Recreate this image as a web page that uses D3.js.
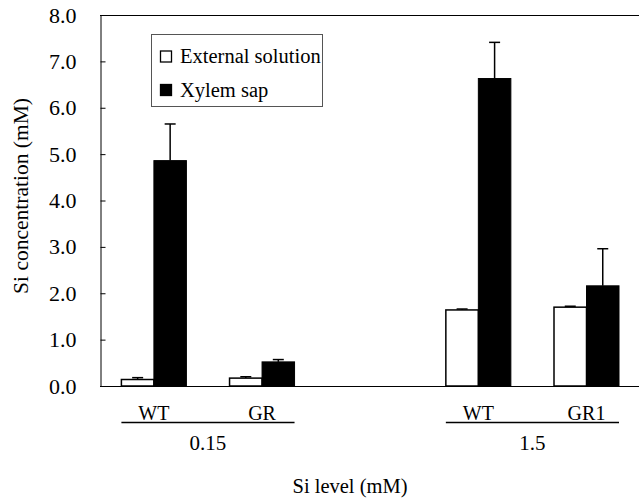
<!DOCTYPE html>
<html>
<head>
<meta charset="utf-8">
<script src="https://cdn.jsdelivr.net/npm/d3@7"></script>
<style>
  body { margin: 0; background: #fff; }
</style>
</head>
<body>
<svg id="chart"></svg>
<script>
// data
const categories = ['WT', 'GR', 'WT', 'GR1'];
const slots = [0, 1, 3, 4];            // position of each pair on the x axis
const groupLabels = ['0.15', '1.5'];
const groupOf = [0, 0, 1, 1];
const external = [0.14, 0.17, 1.64, 1.70];
const externalErr = [0.04, 0.03, 0.02, 0.02];
const xylem = [4.86, 0.52, 6.63, 2.16];
const xylemErr = [0.79, 0.05, 0.78, 0.80];
const yTicks = [0, 1, 2, 3, 4, 5, 6, 7, 8];
const seriesNames = ['External solution', 'Xylem sap'];

const W = 639, H = 500;
const plotLeft = 100, plotTop = 15, plotBottom = 386;
const bw = 32.5;
const FONT = "'Liberation Serif', 'Times New Roman', serif";

const svg = d3.select('#chart').attr('width', W).attr('height', H);

const y = d3.scaleLinear().domain([0, 8]).range([plotBottom, plotTop]);
const x = d3.scaleLinear().domain([0, 4]).range([153.9, 586.5]);

function label(sel) {
  return sel.style('font-family', FONT).attr('fill', '#000');
}

// frame: top line and baseline (figure cut off on the right)
svg.append('line').attr('x1', plotLeft).attr('x2', W).attr('y1', plotTop + 0.5).attr('y2', plotTop + 0.5)
  .attr('stroke', '#000').attr('stroke-width', 1);
svg.append('line').attr('x1', plotLeft).attr('x2', W).attr('y1', plotBottom + 0.5).attr('y2', plotBottom + 0.5)
  .attr('stroke', '#000').attr('stroke-width', 1.2);

// y axis
const yAxis = d3.axisLeft(y).tickValues(yTicks).tickFormat(d3.format('.1f'))
  .tickSize(-5).tickSizeOuter(0).tickPadding(24);
const gy = svg.append('g').attr('transform', `translate(${plotLeft + 0.5},0)`).call(yAxis);
gy.select('.domain').attr('stroke', '#000');
gy.selectAll('.tick line').attr('stroke', '#000');
label(gy.selectAll('.tick text')).style('font-size', '22px');

// bars
const pairs = categories.map((c, i) => ({ i, c, cx: x(slots[i]) }));

function errBar(cx, v, e) {
  const g = svg.append('g').attr('stroke', '#000').attr('stroke-width', 1.5);
  g.append('line').attr('x1', cx).attr('x2', cx).attr('y1', y(v)).attr('y2', y(v + e));
  g.append('line').attr('x1', cx - 5.5).attr('x2', cx + 5.5).attr('y1', y(v + e)).attr('y2', y(v + e));
}

pairs.forEach(p => {
  errBar(p.cx - bw / 2, external[p.i], externalErr[p.i]);
  errBar(p.cx + bw / 2, xylem[p.i], xylemErr[p.i]);
});

svg.selectAll('.ext').data(pairs).join('rect')
  .attr('x', d => d.cx - bw).attr('width', bw)
  .attr('y', d => y(external[d.i])).attr('height', d => plotBottom - y(external[d.i]))
  .attr('fill', '#fff').attr('stroke', '#000').attr('stroke-width', 1.5);

svg.selectAll('.xyl').data(pairs).join('rect')
  .attr('x', d => d.cx).attr('width', bw)
  .attr('y', d => y(xylem[d.i])).attr('height', d => plotBottom - y(xylem[d.i]))
  .attr('fill', '#000').attr('stroke', '#000').attr('stroke-width', 1);

// category labels
label(svg.selectAll('.cat').data(pairs).join('text'))
  .attr('x', d => d.cx).attr('y', 420)
  .attr('text-anchor', 'middle').style('font-size', '20px')
  .text(d => d.c);

// group underline + labels
groupLabels.forEach((g, gi) => {
  const idx = pairs.filter(p => groupOf[p.i] === gi);
  const x0 = idx[0].cx - bw, x1 = idx[idx.length - 1].cx + bw;
  svg.append('line').attr('x1', x0).attr('x2', x1).attr('y1', 422.5).attr('y2', 422.5)
    .attr('stroke', '#000').attr('stroke-width', 1.3);
  label(svg.append('text')).attr('x', (x0 + x1) / 2).attr('y', 450)
    .attr('text-anchor', 'middle').style('font-size', '21px').text(g);
});

// axis titles
label(svg.append('text')).attr('x', 350).attr('y', 493).attr('text-anchor', 'middle')
  .style('font-size', '20.5px').text('Si level (mM)');
label(svg.append('text')).attr('transform', 'translate(28,196) rotate(-90)')
  .attr('text-anchor', 'middle').style('font-size', '21.5px').text('Si concentration (mM)');

// legend
const lg = svg.append('g');
lg.append('rect').attr('x', 151.5).attr('y', 34.5).attr('width', 171).attr('height', 72)
  .attr('fill', '#fff').attr('stroke', '#555').attr('stroke-width', 1);
seriesNames.forEach((s, i) => {
  const yy = 63 + i * 33.5;
  lg.append('rect').attr('x', 160.5).attr('y', yy - 12).attr('width', 11).attr('height', 11)
    .attr('fill', i === 0 ? '#fff' : '#000').attr('stroke', '#000').attr('stroke-width', 1.3);
  label(lg.append('text')).attr('x', 180).attr('y', yy).style('font-size', '20.5px').text(s);
});
</script>
</body>
</html>
